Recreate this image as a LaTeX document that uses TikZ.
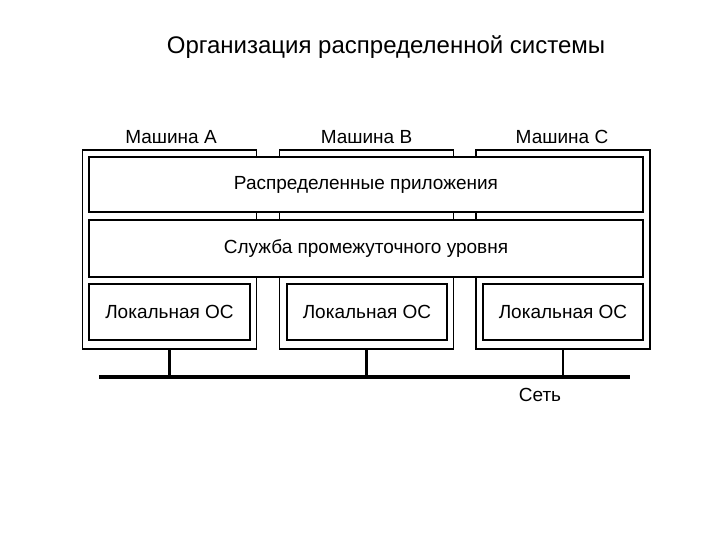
\documentclass[tikz,border=0pt]{standalone}
\usepackage{fontspec}
\setmainfont{Liberation Sans}
\usetikzlibrary{positioning}

\begin{document}
\begin{tikzpicture}[x=1pt, y=-1pt,
    machine/.style={draw, line width=1.8pt, fill=white, minimum width=174pt, minimum height=199pt, inner sep=0pt},
    layer/.style={draw, line width=1.1pt, fill=white, inner sep=0pt, font=\fontsize{19}{22}\selectfont},
    lbl/.style={font=\fontsize{19}{22}\selectfont}]
  \useasboundingbox (0,0) rectangle (720,540);

  % title
  \node[font=\fontsize{24}{28}\selectfont] (title) at (386,47) {Организация распределенной системы};

  % machines
  \node[machine] (mA) at (169.5,249.5) {};
  \node[machine] (mB) at (366.5,249.5) {};
  \node[machine] (mC) at (563,249.5) {};
  \node[lbl] (labA) at (171,137) {Машина A};
  \node[lbl] (labB) at (366.5,137) {Машина B};
  \node[lbl] (labC) at (562,137) {Машина C};

  % shared layers
  \node[layer, minimum width=554pt, minimum height=55pt] (apps) at (366,184.5) {Распределенные приложения};
  \node[layer, minimum width=554pt, minimum height=57pt] (mid) at (366,248.5) {Служба промежуточного уровня};

  % local os
  \node[layer, minimum width=161pt, minimum height=56pt] (osA) at (169.5,312) {Локальная ОС};
  \node[layer, minimum width=160pt, minimum height=56pt] (osB) at (367,312) {Локальная ОС};
  \node[layer, minimum width=160pt, minimum height=56pt] (osC) at (563,312) {Локальная ОС};

  % network
  \coordinate (netL) at (99,377);
  \coordinate (netR) at (630,377);
  \draw[line width=3.4pt] (netL) -- (netR);
  \draw[line width=2.6pt] (mA.south) -- (mA.south |- netL);
  \draw[line width=2.6pt] (mB.south) -- (mB.south |- netL);
  \draw[line width=2.6pt] (mC.south) -- (mC.south |- netL);
  \node[lbl] (net) at (540,395) {Сеть};
\end{tikzpicture}
\end{document}
